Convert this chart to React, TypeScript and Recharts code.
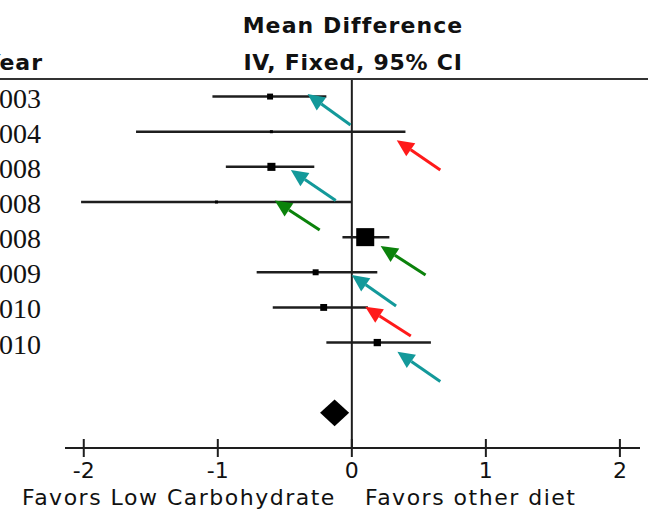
import { ScatterChart, Scatter, XAxis, YAxis, ReferenceLine, ReferenceArea } from 'recharts';

// study rows (labels are cropped on the left in the original, only the year is shown)
const years = ['2003', '2004', '2008', '2008', '2008', '2009', '2010', '2010'];
const meanDiff = [-0.61, -0.6, -0.6, -1.01, 0.1, -0.27, -0.21, 0.19];
const ciLow = [-1.04, -1.61, -0.94, -2.02, -0.07, -0.71, -0.59, -0.19];
const ciHigh = [-0.19, 0.4, -0.28, 0.0, 0.28, 0.19, 0.12, 0.59];
const weights = [6, 1.5, 11, 1.5, 55, 6, 8, 9]; // % weight, drives square size

// pooled estimate (diamond), drawn on row 9
const pooledRow = 9;
const pooledLow = -0.237;
const pooledHigh = -0.02;

const xTicks = [-2, -1, 0, 1, 2];

// hand-drawn annotation arrows, tail -> head, in chart units (x = MD, y = row)
const arrowKind = ['teal', 'red', 'teal', 'green', 'green', 'teal', 'red', 'teal'];
const arrowTailX = [-0.01, 0.66, -0.12, -0.24, 0.55, 0.33, 0.44, 0.66];
const arrowTailY = [0.81, 2.09, 2.96, 3.8, 5.08, 5.96, 6.81, 8.11];
const arrowHeadX = [-0.33, 0.335, -0.455, -0.575, 0.215, 0.0, 0.1, 0.34];
const arrowHeadY = [-0.07, 1.24, 2.09, 2.96, 4.25, 5.08, 5.98, 7.26];

const COLORS: Record<string, string> = { teal: '#13999a', red: '#ff1a1a', green: '#0b820b' };
const INK = '#1e1e1e';
const SANS = '"DejaVu Sans", sans-serif';

const rows = years.map((y, i) => ({ row: i, md: meanDiff[i], w: weights[i], year: y }));

const Square = (props: any) => {
  const { cx, cy, payload } = props;
  if (cx == null || cy == null) return null;
  const s = Math.max(3, 2.43 * Math.sqrt(payload.w));
  return <rect x={cx - s / 2} y={cy - s / 2} width={s} height={s} fill="#000" />;
};

const Diamond = (props: any) => {
  const { x, y, width, height } = props;
  const mx = x + width / 2;
  const my = y + height / 2;
  return <polygon points={`${x},${my} ${mx},${y} ${x + width},${my} ${mx},${y + height}`} fill="#000" />;
};

const makeArrow = (color: string) => (props: any) => {
  const { x1, y1, x2, y2 } = props;
  const ang = Math.atan2(y2 - y1, x2 - x1);
  const len = 17;
  const half = 8;
  const bx = x2 - len * Math.cos(ang);
  const by = y2 - len * Math.sin(ang);
  const px = -Math.sin(ang) * half;
  const py = Math.cos(ang) * half;
  return (
    <g>
      <line x1={x1} y1={y1} x2={bx} y2={by} stroke={color} strokeWidth={3} />
      <polygon points={`${x2},${y2} ${bx + px},${by + py} ${bx - px},${by - py}`} fill={color} />
    </g>
  );
};

// the study names sit off the left edge, so only the end of each year shows
const YearTick = (props: any) => {
  const { y, payload } = props;
  return (
    <text x={41} y={y} dy={11} textAnchor="end" fontFamily='"Liberation Serif", serif' fontSize={28} fill="#111">
      {years[payload.value]}
    </text>
  );
};

const XTick = (props: any) => {
  const { x, y, payload } = props;
  return (
    <g>
      <line x1={x} y1={y - 9} x2={x} y2={y + 9} stroke={INK} strokeWidth={2} />
      <text x={x} y={y + 30} textAnchor="middle" fontFamily={SANS} fontSize={22} fill="#111">
        {payload.value < 0 ? `-${Math.abs(payload.value)}` : payload.value}
      </text>
    </g>
  );
};

export default function App() {
  return (
    <div style={{ position: 'absolute', left: 0, top: 0, width: 648, height: 512, overflow: 'hidden', background: '#fff' }}>
      <ScatterChart width={648} height={512} margin={{ top: 79, right: 8, bottom: 0, left: 0 }}>
        <XAxis
          type="number"
          dataKey="md"
          domain={[-2.14, 2.15]}
          ticks={xTicks}
          height={64}
          tickSize={0}
          tickMargin={0}
          tickLine={false}
          axisLine={{ stroke: INK, strokeWidth: 2 }}
          tick={<XTick />}
          allowDataOverflow
        />
        <YAxis
          type="number"
          dataKey="row"
          domain={[-0.5, 10]}
          reversed
          ticks={[0, 1, 2, 3, 4, 5, 6, 7]}
          width={65}
          axisLine={false}
          tickLine={false}
          tick={<YearTick />}
          allowDataOverflow
        />
        <ReferenceLine x={0} stroke={INK} strokeWidth={2} />
        {rows.map((r, i) => (
          <ReferenceLine
            key={`ci-${i}`}
            segment={[
              { x: ciLow[i], y: r.row },
              { x: ciHigh[i], y: r.row },
            ]}
            stroke={INK}
            strokeWidth={2.5}
          />
        ))}
        <ReferenceArea
          x1={pooledLow}
          x2={pooledHigh}
          y1={pooledRow - 0.38}
          y2={pooledRow + 0.38}
          shape={<Diamond />}
        />
        <Scatter data={rows} shape={<Square />} isAnimationActive={false} />
        {arrowKind.map((k, i) => (
          <ReferenceLine
            key={`arrow-${i}`}
            segment={[
              { x: arrowTailX[i], y: arrowTailY[i] },
              { x: arrowHeadX[i], y: arrowHeadY[i] },
            ]}
            ifOverflow="visible"
            shape={makeArrow(COLORS[k])}
          />
        ))}
      </ScatterChart>
      <svg width={648} height={512} style={{ position: 'absolute', left: 0, top: 0, pointerEvents: 'none' }}>
        <text x={353} y={33} textAnchor="middle" fontFamily={SANS} fontWeight="bold" fontSize={22} letterSpacing={1.1} fill="#111">
          Mean Difference
        </text>
        <text x={353} y={70} textAnchor="middle" fontFamily={SANS} fontWeight={600} fontSize={22} letterSpacing={0.75} fill="#111">
          IV, Fixed, 95% CI
        </text>
        <text x={43} y={70} textAnchor="end" fontFamily={SANS} fontWeight="bold" fontSize={22} letterSpacing={1} fill="#111">
          Year
        </text>
        <line x1={0} y1={79} x2={648} y2={79} stroke="#333" strokeWidth={2} />
        <text x={22} y={505} fontFamily={SANS} fontSize={22} letterSpacing={1.5} fill="#111">
          Favors Low Carbohydrate
        </text>
        <text x={365} y={505} fontFamily={SANS} fontSize={22} letterSpacing={1.5} fill="#111">
          Favors other diet
        </text>
      </svg>
    </div>
  );
}
